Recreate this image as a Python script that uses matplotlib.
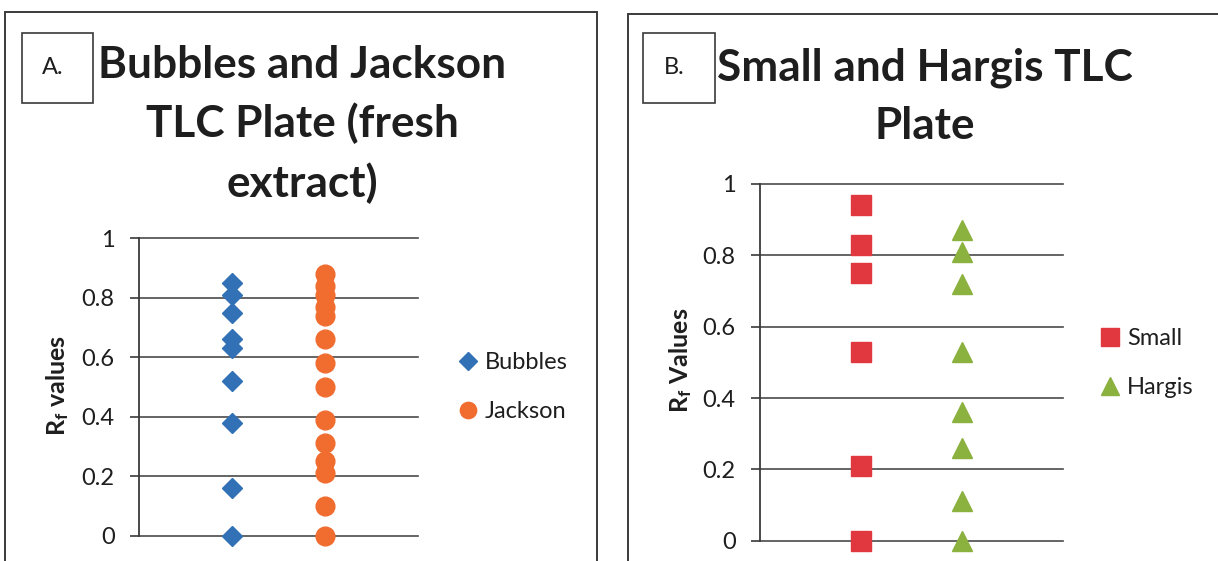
import matplotlib
matplotlib.use("Agg")
import matplotlib.pyplot as plt
from matplotlib.patches import Rectangle

plt.rcParams['font.family'] = ['Lato', 'DejaVu Sans']
plt.rcParams['mathtext.fontset'] = 'custom'
plt.rcParams['mathtext.rm'] = 'Lato'
plt.rcParams['mathtext.bf'] = 'Lato:bold'
plt.rcParams['mathtext.it'] = 'Lato:italic'

W, H = 1218, 561

# ---- data -------------------------------------------------------------
ytick_values = [0, 0.2, 0.4, 0.6, 0.8, 1]
ytick_labels = ['0', '0.2', '0.4', '0.6', '0.8', '1']

bubbles_rf = [0.85, 0.81, 0.75, 0.66, 0.63, 0.52, 0.38, 0.16, 0.0]
jackson_rf = [0.88, 0.84, 0.81, 0.77, 0.74, 0.66, 0.58, 0.50, 0.39,
              0.31, 0.25, 0.21, 0.10, 0.0]
small_rf = [0.94, 0.83, 0.75, 0.53, 0.21, 0.0]
hargis_rf = [0.87, 0.81, 0.72, 0.53, 0.36, 0.26, 0.11, 0.0]

title_a = ['Bubbles and Jackson', 'TLC Plate (fresh', 'extract)']
title_b = ['Small and Hargis TLC', 'Plate']

BLUE = '#3271B6'
ORANGE = '#F06C2F'
RED = '#E1373E'
GREEN = '#8BB13F'
LINE = '#3a3a3a'
TEXT = '#1e1e1e'

fig = plt.figure(figsize=(W / 100, H / 100), dpi=100)


def fx(px):
    return px / W


def fy(py):
    return 1 - py / H


def add_box(x0, y0, x1, y1, lw=1.4):
    fig.patches.append(Rectangle((fx(x0), fy(y1)), fx(x1) - fx(x0), fy(y0) - fy(y1),
                                 transform=fig.transFigure, fill=False,
                                 edgecolor=LINE, linewidth=lw))


def px_axes(left, top, right, bottom):
    return fig.add_axes([fx(left), fy(bottom), fx(right) - fx(left), fy(top) - fy(bottom)])


def style_axes(ax):
    ax.set_xlim(0, 3)
    ax.set_ylim(0, 1)
    ax.set_xticks([])
    ax.set_yticks(ytick_values)
    ax.set_yticklabels(ytick_labels)
    for side in ['top', 'right', 'bottom']:
        ax.spines[side].set_visible(False)
    ax.spines['left'].set_color(LINE)
    ax.spines['left'].set_linewidth(1.3)
    ax.tick_params(axis='y', length=6.5, width=1.2, color=LINE, pad=11,
                   labelsize=17, labelcolor=TEXT)
    ax.yaxis.grid(True, color='#4a4a4a', linewidth=1.2)
    ax.set_axisbelow(True)
    for gl in ax.get_ygridlines():
        gl.set_clip_on(False)
    ax.patch.set_alpha(0)


def add_legend(ax, x_px, y_px):
    ax.legend(loc='center left', bbox_to_anchor=(fx(x_px), fy(y_px)),
              bbox_transform=fig.transFigure, frameon=False, fontsize=17,
              handlelength=0.8, handletextpad=0.3, labelspacing=1.2,
              borderpad=0, borderaxespad=0, markerscale=0.87, labelcolor=TEXT)


# ---- panel frames and tag boxes ---------------------------------------
add_box(5, 12, 597, 600)
add_box(628, 14, 1240, 600)
add_box(22, 33, 93, 103, lw=1.2)
add_box(643, 33, 715, 103, lw=1.2)
fig.text(fx(53), fy(67), 'A.', ha='center', va='center', fontsize=17, color=TEXT)
fig.text(fx(674), fy(67), 'B.', ha='center', va='center', fontsize=17, color=TEXT)

# ---- titles -------------------------------------------------------------
for line, base in zip(title_a, [78, 137, 197]):
    fig.text(fx(302), fy(base), line, ha='center', va='baseline',
             fontsize=31.8, fontweight='bold', color=TEXT)
for line, base in zip(title_b, [80, 139]):
    fig.text(fx(925), fy(base), line, ha='center', va='baseline',
             fontsize=31.8, fontweight='bold', color=TEXT)

# ---- panel A --------------------------------------------------------------
ax_a = px_axes(139, 238.3, 418, 535.5)
style_axes(ax_a)
ax_a.plot([1] * len(bubbles_rf), bubbles_rf, ls='none', marker='D', ms=10.5,
          color=BLUE, mec=BLUE, label='Bubbles', zorder=3, clip_on=False)
ax_a.plot([2] * len(jackson_rf), jackson_rf, ls='none', marker='o', ms=13.5,
          color=ORANGE, mec=ORANGE, label='Jackson', zorder=3, clip_on=False)
add_legend(ax_a, 459, 387)
fig.text(fx(58), fy(385), r'$\mathbf{R_f}$ values', rotation=90, ha='center',
         va='center', fontsize=18, fontweight='bold', color=TEXT)

# ---- panel B --------------------------------------------------------------
ax_b = px_axes(760, 184, 1063, 540.7)
style_axes(ax_b)
ax_b.plot([1] * len(small_rf), small_rf, ls='none', marker='s', ms=14.3,
          color=RED, mec=RED, label='Small', zorder=3, clip_on=False)
ax_b.plot([2] * len(hargis_rf), hargis_rf, ls='none', marker='^', ms=14.5,
          color=GREEN, mec=GREEN, label='Hargis', zorder=3, clip_on=False)
add_legend(ax_b, 1101, 363)
fig.text(fx(681), fy(360), r'$\mathbf{R_f}$ Values', rotation=90, ha='center',
         va='center', fontsize=18, fontweight='bold', color=TEXT)

fig.savefig('out.png', dpi=100, facecolor='white')
